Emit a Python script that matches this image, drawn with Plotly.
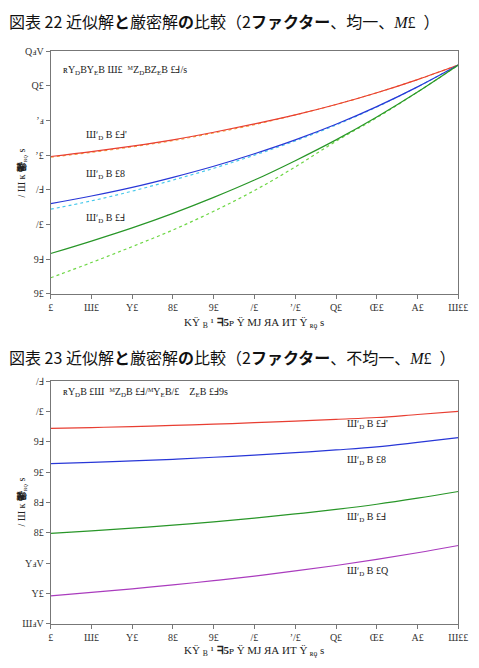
import plotly.graph_objects as go

W, H = 479, 668

x_vals = [0, 10, 20, 30, 40, 50, 60, 70, 80, 90, 100]
x_tick_text = ["£", "Ш£", "Y£", "8£", "9£", "/£", "ʼ/£", "Q£", "Œ£", "A£", "Ш££"]

# top chart (uniform)
top_red = [59.8, 60.5, 61.3, 62.2, 63.3, 64.5, 65.8, 67.3, 69.0, 70.9, 73.0]
top_red_dot = [59.7, 60.4, 61.2, 62.1, 63.2, 64.4, 65.8, 67.3, 69.0, 70.9, 73.0]
top_blue = [53.0, 54.1, 55.35, 56.8, 58.4, 60.2, 62.2, 64.45, 67.0, 69.85, 73.0]
top_cyan_dot = [52.2, 53.4, 54.8, 56.4, 58.1, 60.0, 62.05, 64.35, 66.95, 69.85, 73.0]
top_green = [45.8, 47.6, 49.5, 51.6, 53.9, 56.4, 59.2, 62.2, 65.5, 69.1, 73.0]
top_green_dot = [42.3, 44.5, 46.8, 49.2, 51.9, 54.9, 58.3, 62.0, 65.4, 69.1, 73.0]
top_y_ticks = [40, 45, 50, 55, 60, 65, 70, 75]
top_y_text = ["9£", "9Ⅎ", "/£", "/Ⅎ", "ʼ£", "ʼⅎ", "Q£", "QⅎV"]

# bottom chart (non-uniform)
bot_red = [47.2, 47.35, 47.5, 47.7, 47.9, 48.15, 48.4, 48.7, 49.0, 49.5, 50.0]
bot_blue = [41.4, 41.6, 41.85, 42.1, 42.45, 42.8, 43.2, 43.65, 44.15, 44.9, 45.7]
bot_green = [29.9, 30.3, 30.75, 31.25, 31.8, 32.4, 33.1, 33.85, 34.7, 35.7, 36.8]
bot_purple = [19.6, 20.15, 20.75, 21.4, 22.1, 22.85, 23.7, 24.6, 25.6, 26.7, 27.9]
bot_y_ticks = [15, 20, 25, 30, 35, 40, 45, 50, 55]
bot_y_text = ["ШⅎV", "Y£", "YⅎV", "8£", "8Ⅎ", "9£", "9Ⅎ", "/£", "/Ⅎ"]

RED = "rgb(232,62,50)"
ORANGE = "rgb(245,160,60)"
BLUE = "rgb(40,55,215)"
CYAN = "rgb(70,200,235)"
GREEN = "rgb(40,150,40)"
LGREEN = "rgb(110,215,70)"
PURPLE = "rgb(170,60,190)"

fig = go.Figure()

def add(x, y, color, xa, ya, dash="solid", width=1.2):
    fig.add_trace(go.Scatter(x=x, y=y, mode="lines", line=dict(color=color, width=width, dash=dash, shape="spline"),
                             xaxis=xa, yaxis=ya, showlegend=False, hoverinfo="skip"))

add(x_vals, top_green_dot, LGREEN, "x", "y", dash="dot")
add(x_vals, top_cyan_dot, CYAN, "x", "y", dash="dot")
add(x_vals, top_red_dot, ORANGE, "x", "y", dash="dot")
add(x_vals, top_red, RED, "x", "y")
add(x_vals, top_blue, BLUE, "x", "y")
add(x_vals, top_green, GREEN, "x", "y")

add(x_vals, bot_red, RED, "x2", "y2")
add(x_vals, bot_blue, BLUE, "x2", "y2")
add(x_vals, bot_green, GREEN, "x2", "y2")
add(x_vals, bot_purple, PURPLE, "x2", "y2")

def px(x):
    return x / W

def py(y):
    return 1 - y / H

tickfont = dict(family="Liberation Serif", size=10, color="#333")
axis_common = dict(showline=True, linecolor="#777", linewidth=1, mirror=True, ticks="outside", ticklen=4,
                   tickcolor="#777", showgrid=False, zeroline=False, tickfont=tickfont)

xdom = [px(49), px(468)]
fig.update_layout(
    width=W, height=H, margin=dict(l=0, r=0, t=0, b=0),
    paper_bgcolor="white", plot_bgcolor="white",
    xaxis=dict(domain=xdom, range=[0, 100], anchor="y", tickvals=x_vals, ticktext=x_tick_text, **axis_common),
    yaxis=dict(domain=[py(293), py(46)], range=[40, 75], anchor="x", tickvals=top_y_ticks, ticktext=top_y_text, **axis_common),
    xaxis2=dict(domain=xdom, range=[0, 100], anchor="y2", tickvals=x_vals, ticktext=x_tick_text, **axis_common),
    yaxis2=dict(domain=[py(629), py(382)], range=[15, 55], anchor="x2", tickvals=bot_y_ticks, ticktext=bot_y_text, **axis_common),
)

CJK = "Noto Sans CJK JP"
ann = []
def text(x, y, s, size=10, family="Liberation Serif", anchor="left", color="#222", angle=0):
    ann.append(dict(x=px(x), y=py(y), xref="paper", yref="paper", text=s, showarrow=False,
                    xanchor=anchor, yanchor="middle", textangle=angle,
                    font=dict(family=family, size=size, color=color)))

ms = "<span style='font-family:Liberation Serif'><i>M</i>£  </span>"
text(4, 15, "図表 22 近似解<b>と</b>厳密解<b>の</b>比較（2<b>ファクター</b>、均一、" + ms + "）", size=16, family=CJK, color="#111")
text(4, 357, "図表 23 近似解<b>と</b>厳密解<b>の</b>比較（2<b>ファクター</b>、不均一、" + ms + "）", size=16, family=CJK, color="#111")

text(60, 66, "ʀY<sub>D</sub>BY<sub>E</sub>B Ш£  ᴹZ<sub>D</sub>BZ<sub>E</sub>B £Ⅎ/s", size=10)
text(83, 132, "Шʹ<sub>D</sub> B £Ⅎ'", size=10)
text(83, 172, "Шʹ<sub>D</sub> B £8", size=10)
text(83, 216, "Шʹ<sub>D</sub> B £Ⅎ", size=10)

text(60, 394, "ʀY<sub>D</sub>B £Ш  ᴹZ<sub>D</sub>B £Ⅎ/ᴹY<sub>E</sub>B/£    Z<sub>E</sub>B £Ⅎ9s", size=10)
text(352, 426, "Шʹ<sub>D</sub> B £Ⅎ'", size=10)
text(352, 463, "Шʹ<sub>D</sub> B £8", size=10)
text(352, 521, "Шʹ<sub>D</sub> B £Ⅎ", size=10)
text(352, 576, "Шʹ<sub>D</sub> B £Q", size=10)

xt = "KŸ <sub>B</sub> ¹ <b>ᖷ5</b>ᴘ Ϋ ΜЈ ЯА ИТ Ϋ <sub>ʀǫ</sub> s"
text(258, 323, xt, size=11, anchor="center")
text(258, 657, xt, size=11, anchor="center")
yt = "/ Ш ĸ <b>鬱</b><sub>ʀǫ</sub> s"
text(20, 170, yt, size=10, anchor="center", angle=-90)
text(20, 505, yt, size=10, anchor="center", angle=-90)

fig.update_layout(annotations=ann)
fig.write_html("out.html")
